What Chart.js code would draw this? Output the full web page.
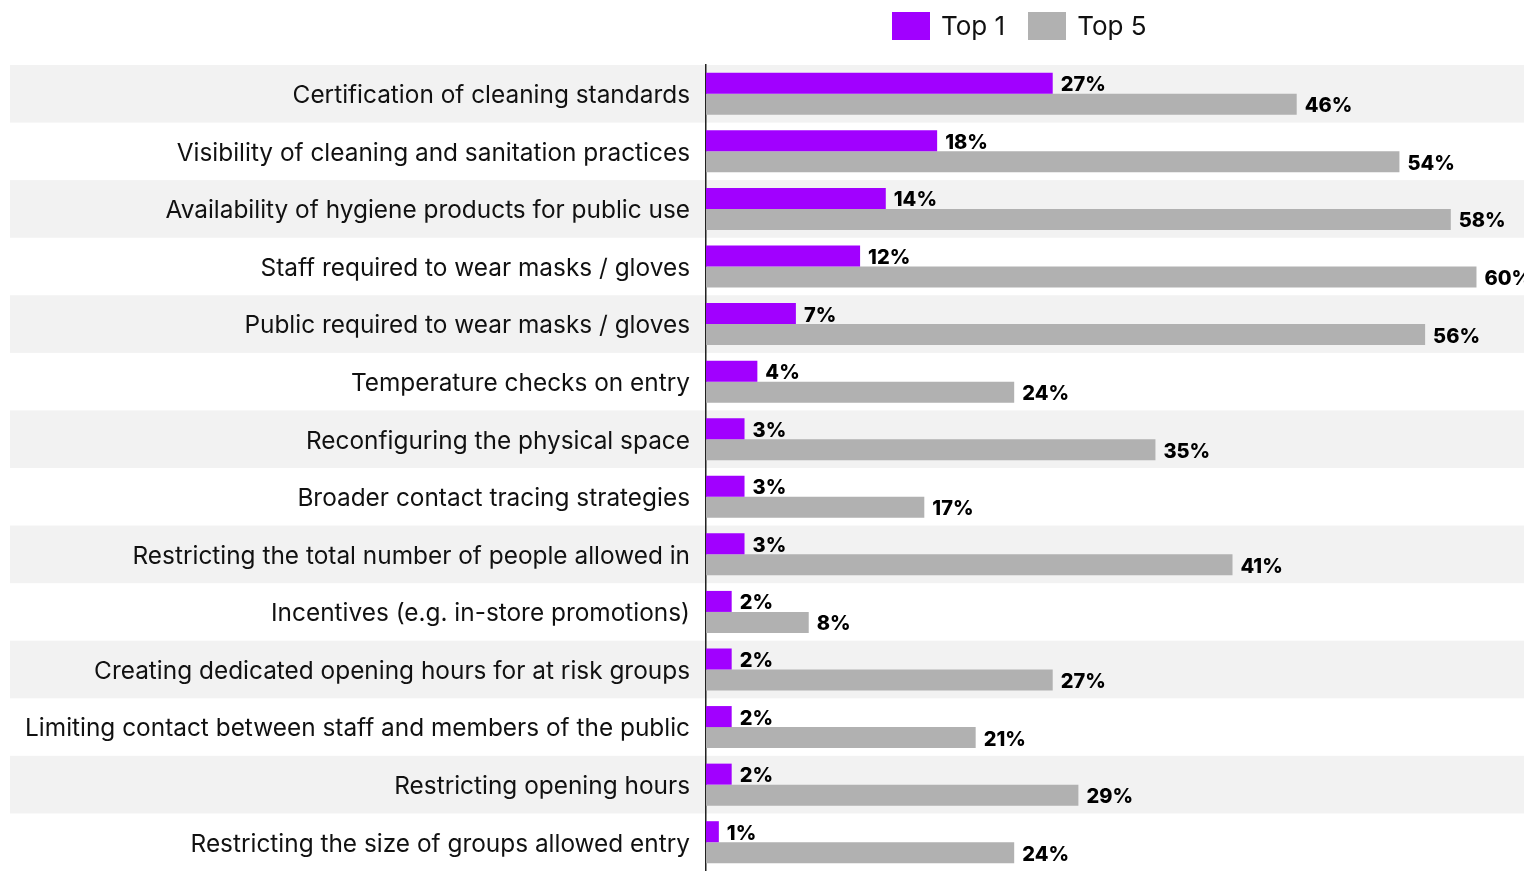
<!DOCTYPE html>
<html lang="en">
<head>
    <meta charset="UTF-8">
    <title>Top measures</title>
    <script src="https://cdn.jsdelivr.net/npm/chart.js@4.4.1/dist/chart.umd.min.js"></script>
    <style>
        * {
            margin: 0;
            padding: 0;
        }
        body {
            background: #fff;
            font-family: Inter, "Noto Sans", sans-serif;
        }
        #wrap {
            position: relative;
            width: 1524px;
            height: 871px;
        }
        #legend {
            position: absolute;
            left: 892px;
            top: 10px;
            display: flex;
            align-items: center;
            font-size: 26px;
            color: #111;
        }
        #legend span.box {
            display: inline-block;
            width: 38px;
            height: 28px;
            margin-right: 11px;
        }
        #legend span.item {
            display: flex;
            align-items: center;
            margin-right: 23px;
        }
    </style>
</head>
<body>
<div id="wrap">
    <canvas id="myChart"></canvas>
    <div id="legend"></div>
</div>
<script>
    var labels = [
        "Certification of cleaning standards",
        "Visibility of cleaning and sanitation practices",
        "Availability of hygiene products for public use",
        "Staff required to wear masks / gloves",
        "Public required to wear masks / gloves",
        "Temperature checks on entry",
        "Reconfiguring the physical space",
        "Broader contact tracing strategies",
        "Restricting the total number of people allowed in",
        "Incentives (e.g. in-store promotions)",
        "Creating dedicated opening hours for at risk groups",
        "Limiting contact between staff and members of the public",
        "Restricting opening hours",
        "Restricting the size of groups allowed entry"
    ];
    var top1 = [27, 18, 14, 12, 7, 4, 3, 3, 3, 2, 2, 2, 2, 1];
    var top5 = [46, 54, 58, 60, 56, 24, 35, 17, 41, 8, 27, 21, 29, 24];

    var PURPLE = "#a100ff";
    var GREY = "#b1b1b1";

    // alternating grey row bands behind the bars
    var rowBands = {
        id: "rowBands",
        beforeDraw: function (chart) {
            var ctx = chart.ctx;
            var y = chart.scales.y;
            var step = (y.bottom - y.top) / labels.length;
            ctx.save();
            ctx.fillStyle = "#f2f2f2";
            for (var i = 0; i < labels.length; i += 2) {
                var c = y.getPixelForValue(i);
                ctx.fillRect(10, c - step / 2, chart.width - 10, step);
            }
            ctx.restore();
        }
    };

    // percentage text at the end of each bar
    var valueLabels = {
        id: "valueLabels",
        afterDatasetsDraw: function (chart) {
            var ctx = chart.ctx;
            ctx.save();
            ctx.font = "800 20px Inter, sans-serif";
            ctx.fillStyle = "#000";
            ctx.textBaseline = "middle";
            ctx.textAlign = "left";
            chart.data.datasets.forEach(function (ds, di) {
                chart.getDatasetMeta(di).data.forEach(function (bar, i) {
                    ctx.fillText(ds.data[i] + "%", bar.x + 8, bar.y + 2);
                });
            });
            ctx.restore();
        }
    };

    var ctx = document.getElementById("myChart").getContext("2d");
    var myChart = new Chart(ctx, {
        type: "bar",
        data: {
            labels: labels,
            datasets: [{
                label: "Top 1",
                data: top1,
                backgroundColor: PURPLE,
                categoryPercentage: 0.73,
                barPercentage: 1
            }, {
                label: "Top 5",
                data: top5,
                backgroundColor: GREY,
                categoryPercentage: 0.73,
                barPercentage: 1
            }]
        },
        options: {
            indexAxis: "y",
            responsive: true,
            maintainAspectRatio: false,
            animation: false,
            layout: {padding: {top: 65, right: 0, bottom: 0, left: 0}},
            plugins: {
                legend: {display: false},
                tooltip: {enabled: false}
            },
            scales: {
                x: {
                    display: false,
                    min: 0,
                    max: 63.7
                },
                y: {
                    grid: {display: false, drawTicks: false},
                    border: {display: true, color: "#222", width: 1.5},
                    ticks: {
                        color: "#111",
                        padding: 16,
                        labelOffset: 2,
                        font: {family: "Inter", size: 24.4}
                    },
                    afterFit: function (scale) {
                        scale.width = 706;
                        // rows run right down to the bottom edge
                        scale.paddingTop = 0;
                        scale.paddingBottom = 0;
                    }
                }
            }
        },
        plugins: [rowBands, valueLabels]
    });

    // legend above the bars
    var legend = document.getElementById("legend");
    myChart.data.datasets.forEach(function (ds) {
        var item = document.createElement("span");
        item.className = "item";
        var box = document.createElement("span");
        box.className = "box";
        box.style.background = ds.backgroundColor;
        item.appendChild(box);
        item.appendChild(document.createTextNode(ds.label));
        legend.appendChild(item);
    });
</script>
</body>
</html>
